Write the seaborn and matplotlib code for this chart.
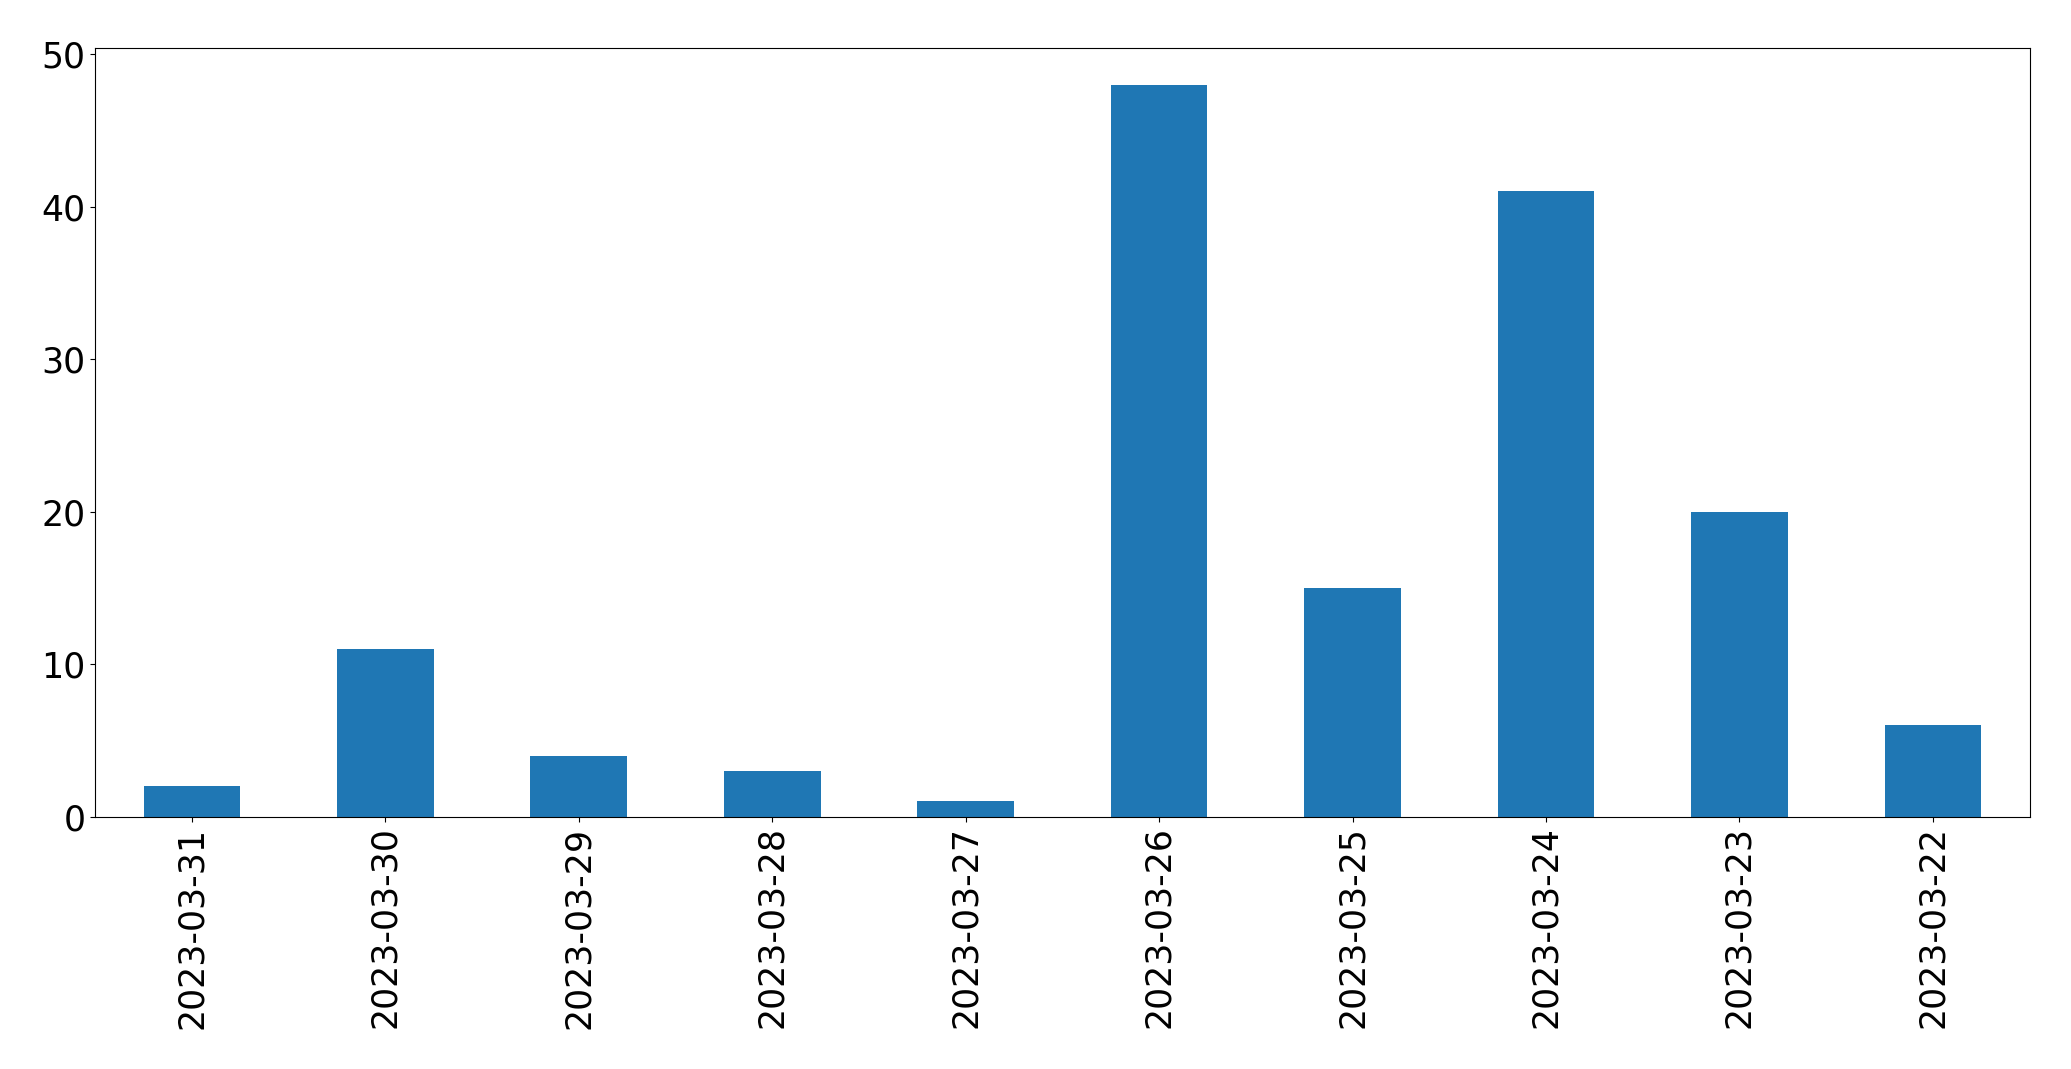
import matplotlib
matplotlib.use('Agg')
import matplotlib.pyplot as plt
import seaborn as sns

# dados do grafico
datas = ['2023-03-31', '2023-03-30', '2023-03-29', '2023-03-28', '2023-03-27',
         '2023-03-26', '2023-03-25', '2023-03-24', '2023-03-23', '2023-03-22']
valores = [2, 11, 4, 3, 1, 48, 15, 41, 20, 6]

fig, ax = plt.subplots(figsize=(20.71, 10.69), dpi=100)
sns.barplot(x=datas, y=valores, color='#1f77b4', saturation=1, width=0.5, ax=ax)
ax.set_xlim(-0.5, len(datas) - 0.5)
ax.set_ylim(0, 50.4)
ax.tick_params(axis='both', labelsize=25)
plt.xticks(rotation=90)
fig.subplots_adjust(left=0.046, right=0.98, top=0.955, bottom=0.236)
fig.savefig('out.png', dpi=100)
